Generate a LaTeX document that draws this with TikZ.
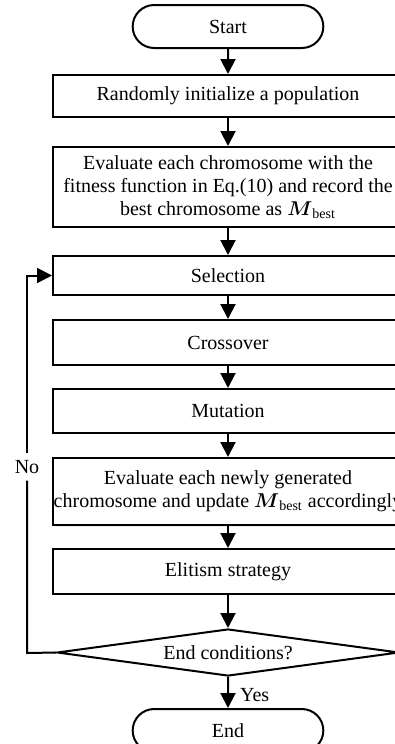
\documentclass[tikz,border=0pt]{standalone}
\usepackage{fontspec}
\setmainfont{Liberation Serif}
\usepackage{amsmath}
\usepackage{tikz}
\usetikzlibrary{arrows.meta,shapes.geometric,shapes.misc,shadows}
\tikzset{process/.style = {shape = rectangle, draw, line width = 1pt, fill = white,
    minimum width = 175pt, inner sep = 0pt, align = center, font = \fontsize{10}{11.5}\selectfont}}
\tikzset{terminal/.style = {shape = rounded rectangle, draw, line width = 1pt,
    minimum width = 102pt, minimum height = 21.5pt, font = \fontsize{10}{11.5}\selectfont}}
\tikzset{decision/.style = {shape = diamond, draw, line width = 1pt, aspect = 7.3,
    minimum width = 171pt, minimum height = 23.5pt, inner sep = 0pt, font = \fontsize{10}{11.5}\selectfont}}
\tikzset{edge/.style = {line width = 1pt, -{Triangle[length = 7.5pt, width = 7.5pt]}}}
\newcommand{\Mbest}{$\boldsymbol{M}_{\text{best}}$}

\begin{document}
\begin{tikzpicture}[x = 0.5pt, y = -0.5pt]
			\clip (0, 0) rectangle (395, 744);
			\useasboundingbox (0, 0) rectangle (395, 744);

			\node[terminal] (start) at (228, 26.5) {Start};
			\node[process, minimum height = 21pt] (init) at (228, 96) {Randomly initialize a population};
			\node[process, minimum height = 40pt] (eval) at (228, 187) {Evaluate each chromosome with the\\fitness function in Eq.(10) and record the\\best chromosome as \Mbest};
			\node[process, minimum height = 19.5pt] (sel) at (228, 275.5) {Selection};
			\node[process, minimum height = 22.5pt] (cross) at (228, 342.5) {Crossover};
			\node[process, minimum height = 22pt] (mut) at (228, 411) {Mutation};
			\node[process, minimum height = 33.5pt, drop shadow = {opacity = 0.15, shadow xshift = 0.8pt, shadow yshift = -0.8pt}] (upd) at (228, 491.5) {Evaluate each newly generated\\chromosome and update \Mbest{} accordingly};
			\node[process, minimum height = 22.5pt] (elit) at (228, 571.5) {Elitism strategy};
			\node[decision] (cond) at (228, 652.5) {End conditions?};
			\node[terminal] (end) at (228, 730.5) {End};

			\coordinate (back) at (27, 653);
			\coordinate (up) at (27, 275.5);
			\node[font = \fontsize{10}{11.5}\selectfont] (no) at (27, 467) {No};
			\node[font = \fontsize{10}{11.5}\selectfont, anchor = west] (yes) at (233, 695) {Yes};

			\draw[edge] (start) to (init);
			\draw[edge] (init) to (eval);
			\draw[edge] (eval) to (sel);
			\draw[edge] (sel) to (cross);
			\draw[edge] (cross) to (mut);
			\draw[edge] (mut) to (upd);
			\draw[edge] (upd) to (elit);
			\draw[edge] (elit) to (cond);
			\draw[edge] (cond) to (end);
			\draw[line width = 1pt] (cond.west) -- (back) -- (no);
			\draw[edge] (no) -- (up) -- (sel.west);
		\end{tikzpicture}
\end{document}
